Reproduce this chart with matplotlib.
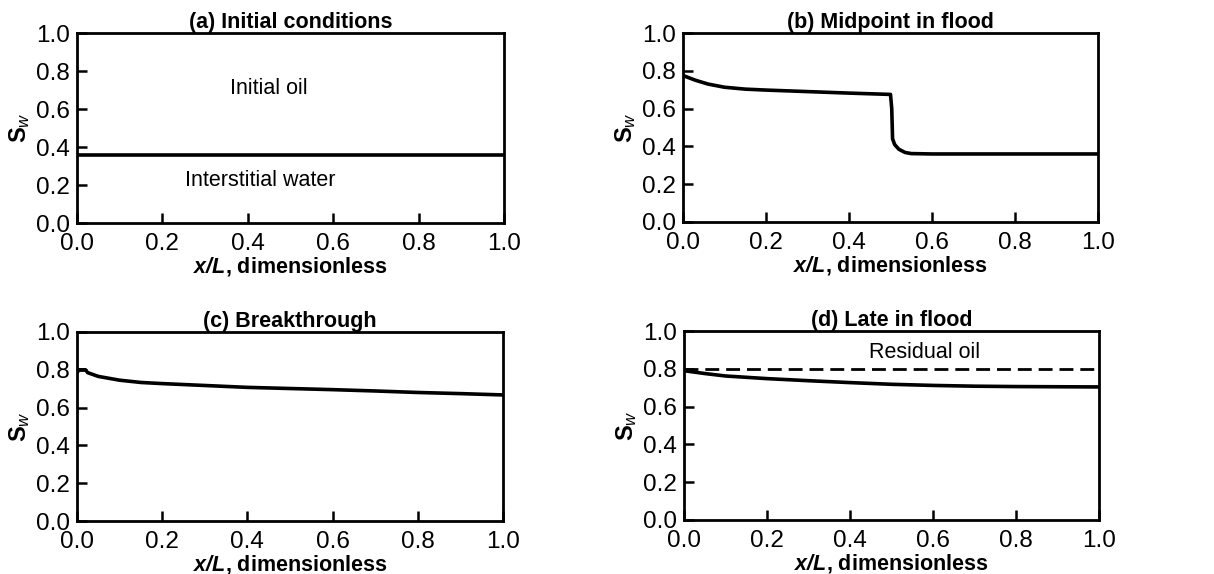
import matplotlib
matplotlib.use("Agg")
import matplotlib.pyplot as plt

plt.rcParams["font.family"] = ["Liberation Sans", "DejaVu Sans"]
plt.rcParams["mathtext.fontset"] = "custom"
plt.rcParams["mathtext.rm"] = "Liberation Sans"
plt.rcParams["mathtext.it"] = "Liberation Sans:italic"
plt.rcParams["mathtext.bf"] = "Liberation Sans:bold"
plt.rcParams["mathtext.bfit"] = "Liberation Sans:italic:bold"

# (a) initial conditions
a_x = [0.0, 1.0]
a_sw = [0.36, 0.36]

# (b) midpoint in flood
b_x = [0.0, 0.03, 0.06, 0.1, 0.15, 0.2, 0.3, 0.4, 0.5, 0.503, 0.505, 0.51, 0.52, 0.535, 0.55, 0.6, 0.8, 1.0]
b_sw = [0.775, 0.75, 0.73, 0.713, 0.703, 0.698, 0.69, 0.682, 0.675, 0.6, 0.44, 0.41, 0.385, 0.368, 0.362, 0.36, 0.36, 0.36]

# (c) breakthrough
c_x = [0.0, 0.005, 0.02, 0.025, 0.05, 0.1, 0.15, 0.2, 0.3, 0.4, 0.5, 0.6, 0.7, 0.8, 0.9, 1.0]
c_sw = [0.785, 0.80, 0.80, 0.785, 0.765, 0.745, 0.733, 0.727, 0.717, 0.707, 0.701, 0.695, 0.688, 0.68, 0.674, 0.667]

# (d) late in flood
d_x = [0.0, 0.05, 0.1, 0.2, 0.3, 0.4, 0.5, 0.6, 0.7, 0.8, 0.9, 1.0]
d_sw = [0.79, 0.775, 0.762, 0.748, 0.737, 0.727, 0.718, 0.712, 0.708, 0.706, 0.705, 0.704]
d_residual = [0.80, 0.80]

titles = ["(a) Initial conditions", "(b) Midpoint in flood",
          "(c) Breakthrough", "(d) Late in flood"]
ticks = [0.0, 0.2, 0.4, 0.6, 0.8, 1.0]

fig = plt.figure(figsize=(12.14, 5.74), dpi=100)
rects = [
    [77 / 1214, 351 / 574, 427 / 1214, 190 / 574],
    [683 / 1214, 352 / 574, 415 / 1214, 189 / 574],
    [77 / 1214, 53 / 574, 426 / 1214, 189 / 574],
    [684 / 1214, 54 / 574, 415 / 1214, 189 / 574],
]
axes = [fig.add_axes(r) for r in rects]

for ax, title in zip(axes, titles):
    ax.set_xlim(0, 1)
    ax.set_ylim(0, 1)
    ax.set_xticks(ticks)
    ax.set_yticks(ticks)
    ax.set_xticklabels([f"{t:.1f}" for t in ticks])
    ax.set_yticklabels([f"{t:.1f}" for t in ticks])
    ax.tick_params(direction="in", length=7, width=1.8, labelsize=17.5,
                   top=False, right=False)
    ax.tick_params(axis="x", pad=7)
    ax.tick_params(axis="y", pad=5)
    for s in ax.spines.values():
        s.set_linewidth(2.0)
    ax.set_title(title, fontsize=15.5, fontweight="bold", pad=2)
    ax.set_xlabel(r"$\mathbfit{x/L}$, dimensionless", fontsize=15.5,
                  fontweight="bold", labelpad=0)
    ax.set_ylabel(r"$\mathbf{S}_{\mathit{w}}$", fontsize=17, labelpad=3)

lw = 2.6
axes[0].plot(a_x, a_sw, color="black", lw=lw)
axes[0].text(0.45, 0.71, "Initial oil", fontsize=15.5, ha="center", va="center")
axes[0].text(0.43, 0.225, "Interstitial water", fontsize=15.5, ha="center", va="center")

axes[1].plot(b_x, b_sw, color="black", lw=lw)
axes[2].plot(c_x, c_sw, color="black", lw=lw)

axes[3].plot(d_x, d_sw, color="black", lw=lw)
axes[3].plot([0.0, 1.0], d_residual, color="black", lw=2.0, ls=(0, (5, 2.5)))
axes[3].text(0.58, 0.885, "Residual oil", fontsize=15.5, ha="center", va="center")

fig.savefig("out.png", dpi=100)
